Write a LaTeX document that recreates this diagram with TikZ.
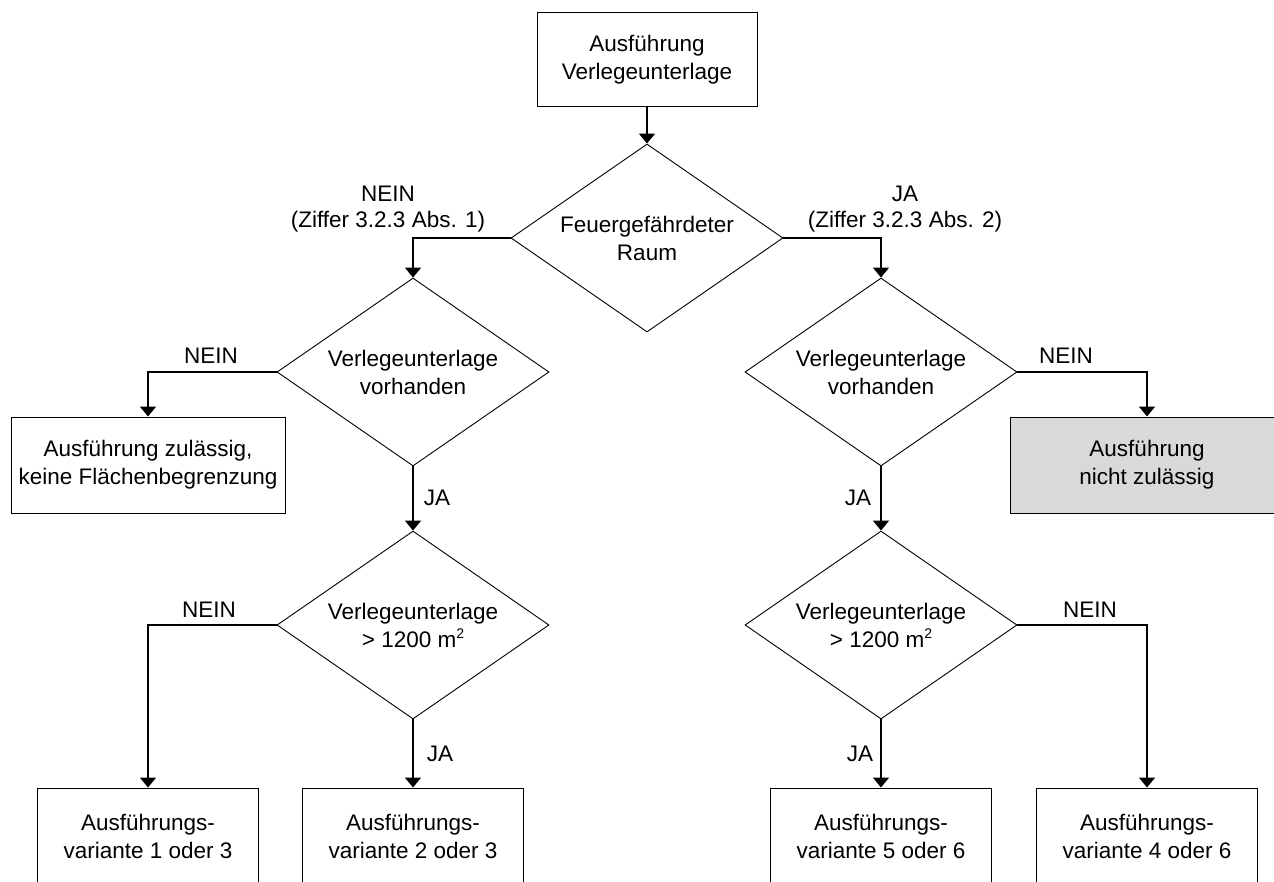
\documentclass[tikz,border=0pt]{standalone}
\usepackage{fontspec}
\setmainfont{Liberation Sans}
\usetikzlibrary{shapes.geometric,arrows.meta}
\definecolor{boxgray}{RGB}{217,217,217}
\newcommand{\sqm}{m\raisebox{0.75ex}{\fontsize{14}{14}\selectfont 2}}
\begin{document}
\begin{tikzpicture}[x=1pt,y=-1pt,
  every node/.style={font=\fontsize{22.5}{28}\selectfont, text=black},
  box/.style={draw, line width=1pt, rectangle, inner sep=0pt, align=center},
  bigbox/.style={box, minimum width=274pt, minimum height=96pt},
  endbox/.style={box, minimum width=221pt, minimum height=96pt},
  dec/.style={draw, line width=0.9pt, diamond, shape aspect=1.45, minimum width=272pt, minimum height=188pt, inner sep=0pt, align=center},
  arr/.style={line width=1.6pt, -{Triangle[width=16pt,length=10pt]}},
  lbl/.style={anchor=base, inner sep=0pt}]
\path[use as bounding box, clip] (0,0) rectangle (1274,882);
\fill[white] (0,0) rectangle (1274,882);

\node[box, minimum width=220pt, minimum height=94pt] (start) at (647,60) {Ausführung\\Verlegeunterlage};
\node[dec] (d1) at (647,238) {Feuergefährdeter\\Raum};
\node[dec] (d2) at (413,372) {Verlegeunterlage\\vorhanden};
\node[dec] (d4) at (881,372) {Verlegeunterlage\\vorhanden};
\node[bigbox] (ok) at (148,465) {Ausführung zulässig,\\keine Flächenbegrenzung};
\node[bigbox, fill=boxgray] (no) at (1147,465) {Ausführung\\nicht zulässig};
\node[dec] (d3) at (413,625) {Verlegeunterlage\\> 1200 \sqm};
\node[dec] (d5) at (881,625) {Verlegeunterlage\\> 1200 \sqm};
\node[endbox] (b1) at (148,836) {Ausführungs-\\variante 1 oder 3};
\node[endbox] (b2) at (413,836) {Ausführungs-\\variante 2 oder 3};
\node[endbox] (b5) at (881,836) {Ausführungs-\\variante 5 oder 6};
\node[endbox] (b6) at (1147,836) {Ausführungs-\\variante 4 oder 6};

\draw[arr] (start.south) -- (d1.north);
\draw[arr] (d1.west) -| (d2.north);
\draw[arr] (d1.east) -| (d4.north);
\draw[arr] (d2.west) -| (ok.north);
\draw[arr] (d2.south) -- (d3.north);
\draw[arr] (d3.west) -| (b1.north);
\draw[arr] (d3.south) -- (b2.north);
\draw[arr] (d4.east) -| (no.north);
\draw[arr] (d4.south) -- (d5.north);
\draw[arr] (d5.south) -- (b5.north);
\draw[arr] (d5.east) -| (b6.north);

\node[lbl] (l1a) at (388,202) {NEIN};
\node[lbl] (l1b) at (388,228) {(Ziffer 3.2.3 Abs. 1)};
\node[lbl] (l2a) at (905,202) {JA};
\node[lbl] (l2b) at (905,228) {(Ziffer 3.2.3 Abs. 2)};
\node[lbl] (l3) at (211,363) {NEIN};
\node[lbl] (l4) at (1066,363) {NEIN};
\node[lbl] (l5) at (437,505) {JA};
\node[lbl] (l6) at (858,505) {JA};
\node[lbl] (l7) at (209,617) {NEIN};
\node[lbl] (l8) at (1090,617) {NEIN};
\node[lbl] (l9) at (440,761) {JA};
\node[lbl] (l10) at (860,761) {JA};
\end{tikzpicture}
\end{document}
